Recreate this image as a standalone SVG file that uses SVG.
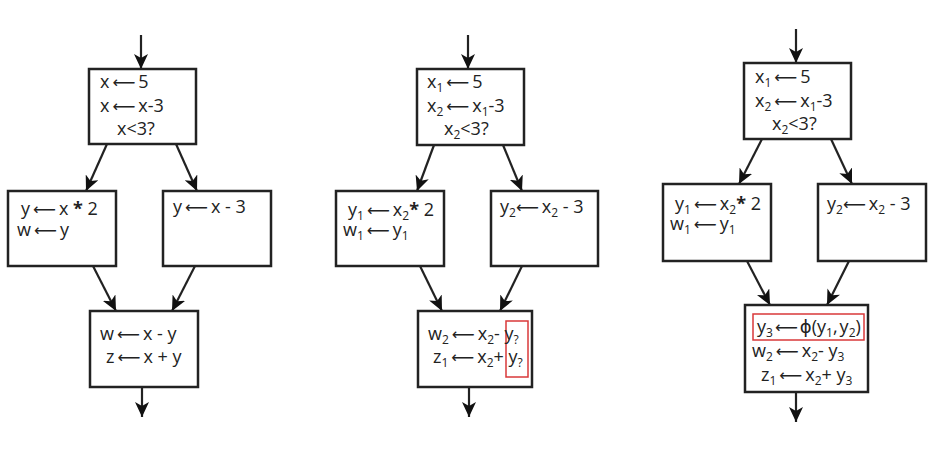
<svg xmlns="http://www.w3.org/2000/svg" width="939" height="465" viewBox="0 0 939 465">
<style>
.box{fill:#fff;stroke:#222;stroke-width:2.5}
.red{fill:none;stroke:#d9383a;stroke-width:1.5}
.edge{stroke:#222;stroke-width:2.2;fill:none;marker-end:url(#ah)}
text{font-family:"Open Sans","DejaVu Sans",sans-serif;font-size:18px;fill:#222}
.s{font-size:12px}
.b{font-weight:bold}
.ar{font-family:"DejaVu Sans",sans-serif;font-size:16px}
</style>
<defs>
<marker id="ah" markerUnits="userSpaceOnUse" markerWidth="16" markerHeight="14" refX="15" refY="7" orient="auto">
<path d="M0,0 L15,7 L0,14 L4,7 z" fill="#111"/>
</marker>
</defs>
<rect width="939" height="465" fill="#fff"/>
<g id="edges">
<line class="edge" x1="141" y1="35" x2="141" y2="69"/>
<line class="edge" x1="107" y1="144" x2="86" y2="191"/>
<line class="edge" x1="176" y1="144" x2="197" y2="191"/>
<line class="edge" x1="93" y1="266" x2="116" y2="311"/>
<line class="edge" x1="195" y1="266" x2="172" y2="311"/>
<line class="edge" x1="142" y1="387" x2="142" y2="417"/>
<line class="edge" x1="468" y1="35" x2="468" y2="69"/>
<line class="edge" x1="434" y1="145" x2="417" y2="191"/>
<line class="edge" x1="503" y1="145" x2="522" y2="191"/>
<line class="edge" x1="420" y1="266" x2="442" y2="311"/>
<line class="edge" x1="522" y1="266" x2="500" y2="311"/>
<line class="edge" x1="469" y1="387" x2="469" y2="417"/>
<line class="edge" x1="796" y1="29" x2="796" y2="63"/>
<line class="edge" x1="762" y1="139" x2="739" y2="184"/>
<line class="edge" x1="831" y1="139" x2="852" y2="184"/>
<line class="edge" x1="747" y1="261" x2="770" y2="305"/>
<line class="edge" x1="849" y1="261" x2="827" y2="305"/>
<line class="edge" x1="796" y1="392" x2="796" y2="422"/>
</g>
<g id="a1">
<rect class="box" x="89" y="69" width="107" height="75"/>
<text x="100" y="88">x<tspan class="ar" dx="3">⟵</tspan><tspan dx="3">5</tspan></text>
<text x="100" y="112">x<tspan class="ar" dx="3">⟵</tspan><tspan dx="3">x-3</tspan></text>
<text x="117" y="135">x&lt;3?</text>
</g>
<g id="b1">
<rect class="box" x="8" y="191" width="108" height="75"/>
<text x="21" y="215">y<tspan class="ar" dx="3">⟵</tspan><tspan dx="3">x </tspan><tspan class="b">*</tspan> 2</text>
<text x="17" y="236">w<tspan class="ar" dx="3">⟵</tspan><tspan dx="3">y</tspan></text>
</g>
<g id="c1">
<rect class="box" x="163" y="191" width="108" height="75"/>
<text x="173" y="213">y<tspan class="ar" dx="3">⟵</tspan><tspan dx="3">x - 3</tspan></text>
</g>
<g id="d1">
<rect class="box" x="90" y="311" width="108" height="76"/>
<text x="100" y="340">w<tspan class="ar" dx="3">⟵</tspan><tspan dx="3">x - y</tspan></text>
<text x="106" y="363">z<tspan class="ar" dx="3">⟵</tspan><tspan dx="3">x + y</tspan></text>
</g>
<g id="a2">
<rect class="box" x="417" y="69" width="107" height="76"/>
<text x="427" y="88">x<tspan class="s" dy="4">1</tspan><tspan class="ar" dx="3" dy="-4">⟵</tspan><tspan dx="3">5</tspan></text>
<text x="427" y="112">x<tspan class="s" dy="4">2</tspan><tspan class="ar" dx="3" dy="-4">⟵</tspan><tspan dx="3">x</tspan><tspan class="s" dy="4">1</tspan><tspan dy="-4">-3</tspan></text>
<text x="444" y="135">x<tspan class="s" dy="4">2</tspan><tspan dy="-4">&lt;3?</tspan></text>
</g>
<g id="b2">
<rect class="box" x="336" y="191" width="108" height="75"/>
<text x="348" y="216">y<tspan class="s" dy="4">1</tspan><tspan class="ar" dx="3" dy="-4">⟵</tspan><tspan dx="3">x</tspan><tspan class="s" dy="4">2</tspan><tspan class="b" dy="-4">*</tspan> 2</text>
<text x="343" y="236">w<tspan class="s" dy="4">1</tspan><tspan class="ar" dx="3" dy="-4">⟵</tspan><tspan dx="3">y</tspan><tspan class="s" dy="4">1</tspan></text>
</g>
<g id="c2">
<rect class="box" x="491" y="191" width="107" height="75"/>
<text x="500" y="213">y<tspan class="s" dy="4">2</tspan><tspan class="ar" dy="-4">⟵</tspan><tspan dx="3">x</tspan><tspan class="s" dy="4">2</tspan><tspan dy="-4"> - 3</tspan></text>
</g>
<g id="d2">
<rect class="box" x="418" y="311" width="114" height="76"/>
<rect class="red" x="506" y="321" width="22" height="56"/>
<text x="428" y="340">w<tspan class="s" dy="4">2</tspan><tspan class="ar" dx="3" dy="-4">⟵</tspan><tspan dx="3">x</tspan><tspan class="s" dy="4">2</tspan><tspan dy="-4">- y</tspan><tspan class="s" dy="4">?</tspan></text>
<text x="433" y="363">z<tspan class="s" dy="4">1</tspan><tspan class="ar" dx="3" dy="-4">⟵</tspan><tspan dx="3">x</tspan><tspan class="s" dy="4">2</tspan><tspan dy="-4">+ y</tspan><tspan class="s" dy="4">?</tspan></text>
</g>
<g id="a3">
<rect class="box" x="744" y="63" width="107" height="76"/>
<text x="755" y="83">x<tspan class="s" dy="4">1</tspan><tspan class="ar" dx="3" dy="-4">⟵</tspan><tspan dx="3">5</tspan></text>
<text x="755" y="107">x<tspan class="s" dy="4">2</tspan><tspan class="ar" dx="3" dy="-4">⟵</tspan><tspan dx="3">x</tspan><tspan class="s" dy="4">1</tspan><tspan dy="-4">-3</tspan></text>
<text x="772" y="130">x<tspan class="s" dy="4">2</tspan><tspan dy="-4">&lt;3?</tspan></text>
</g>
<g id="b3">
<rect class="box" x="663" y="184" width="108" height="77"/>
<text x="675" y="210">y<tspan class="s" dy="4">1</tspan><tspan class="ar" dx="3" dy="-4">⟵</tspan><tspan dx="3">x</tspan><tspan class="s" dy="4">2</tspan><tspan class="b" dy="-4">*</tspan> 2</text>
<text x="670" y="230">w<tspan class="s" dy="4">1</tspan><tspan class="ar" dx="3" dy="-4">⟵</tspan><tspan dx="3">y</tspan><tspan class="s" dy="4">1</tspan></text>
</g>
<g id="c3">
<rect class="box" x="818" y="184" width="108" height="77"/>
<text x="827" y="210">y<tspan class="s" dy="4">2</tspan><tspan class="ar" dy="-4">⟵</tspan><tspan dx="3">x</tspan><tspan class="s" dy="4">2</tspan><tspan dy="-4"> - 3</tspan></text>
</g>
<g id="d3">
<rect class="box" x="745" y="305" width="123" height="87"/>
<rect class="red" x="753" y="314" width="111" height="26"/>
<text x="757" y="333">y<tspan class="s" dy="4">3</tspan><tspan class="ar" dx="2" dy="-4">⟵</tspan><tspan dx="2">ϕ(y</tspan><tspan class="s" dy="4">1</tspan><tspan dy="-4">,</tspan><tspan dx="2">y</tspan><tspan class="s" dy="4">2</tspan><tspan dy="-4">)</tspan></text>
<text x="752" y="357">w<tspan class="s" dy="4">2</tspan><tspan class="ar" dx="3" dy="-4">⟵</tspan><tspan dx="3">x</tspan><tspan class="s" dy="4">2</tspan><tspan dy="-4">- y</tspan><tspan class="s" dy="4">3</tspan></text>
<text x="761" y="381">z<tspan class="s" dy="4">1</tspan><tspan class="ar" dx="3" dy="-4">⟵</tspan><tspan dx="3">x</tspan><tspan class="s" dy="4">2</tspan><tspan dy="-4">+ y</tspan><tspan class="s" dy="4">3</tspan></text>
</g>
</svg>
